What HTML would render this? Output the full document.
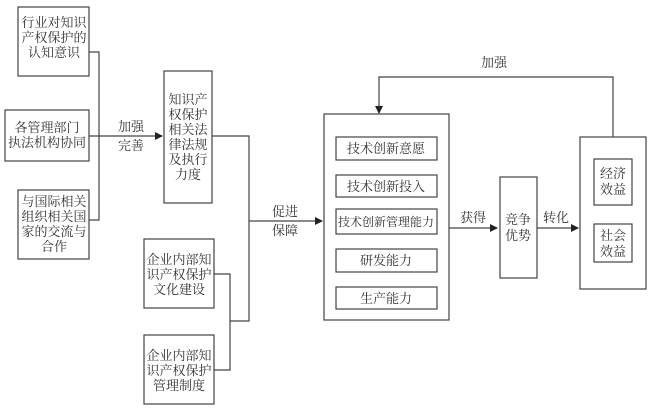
<!DOCTYPE html>
<html><head><meta charset="utf-8"><style>
html,body{margin:0;padding:0;background:#fff;}
svg text{font-family:"Liberation Serif","Noto Serif CJK SC",serif;font-size:13px;fill:#333;text-anchor:middle;}
</style></head><body>
<svg width="650" height="407" viewBox="0 0 650 407" xmlns="http://www.w3.org/2000/svg">
<defs><marker id="a" markerWidth="8" markerHeight="8" refX="7" refY="4" orient="auto" markerUnits="userSpaceOnUse"><path d="M0,0 L8,4 L0,8 z" fill="#222"/></marker></defs>
<g fill="none" stroke="#444" stroke-width="1.2">
<rect x="18" y="7" width="71" height="69"/>
<rect x="5" y="110" width="84" height="51"/>
<rect x="18" y="190" width="71" height="69"/>
<path d="M89,52 H99 V220 H89"/>
<path d="M89,136 H162" marker-end="url(#a)"/>
<rect x="164" y="71" width="48" height="132"/>
<path d="M212,136 H249 V321 H230"/>
<path d="M249,221 H322" marker-end="url(#a)"/>
<rect x="144" y="239" width="70" height="69"/>
<rect x="144" y="335" width="70" height="69"/>
<path d="M214,274 H230 V370 H214"/>
<rect x="324" y="114" width="125" height="206"/>
<rect x="336" y="137" width="101" height="23"/>
<rect x="336" y="175" width="101" height="22"/>
<rect x="336" y="209" width="101" height="25"/>
<rect x="336" y="249" width="101" height="23"/>
<rect x="336" y="287" width="101" height="22"/>
<path d="M449,228 H497" marker-end="url(#a)"/>
<rect x="500" y="177" width="37" height="101"/>
<path d="M537,228 H578" marker-end="url(#a)"/>
<rect x="580" y="137" width="66" height="152"/>
<rect x="594" y="159" width="38" height="46"/>
<rect x="594" y="224" width="38" height="38"/>
<path d="M613,137 V77 H379 V113" marker-end="url(#a)"/>
</g>
<text x="54" y="27">行业对知识</text><text x="54" y="42">产权保护的</text><text x="54" y="57">认知意识</text>
<text x="47" y="132">各管理部门</text><text x="47" y="147">执法机构协同</text>
<text x="54" y="206">与国际相关</text><text x="54" y="221">组织相关国</text><text x="54" y="236">家的交流与</text><text x="54" y="251">合作</text>
<text x="131" y="131">加强</text><text x="131" y="150">完善</text>
<text x="188" y="104">知识产</text><text x="188" y="119">权保护</text><text x="188" y="134">相关法</text><text x="188" y="149">律法规</text><text x="188" y="164">及执行</text><text x="188" y="179">力度</text>
<text x="285" y="216">促进</text><text x="285" y="235">保障</text>
<text x="179" y="264">企业内部知</text><text x="179" y="279">识产权保护</text><text x="179" y="294">文化建设</text>
<text x="179" y="360">企业内部知</text><text x="179" y="375">识产权保护</text><text x="179" y="390">管理制度</text>
<text x="386" y="153">技术创新意愿</text>
<text x="386" y="191">技术创新投入</text>
<text x="386" y="226" style="font-size:12px">技术创新管理能力</text>
<text x="386" y="265">研发能力</text>
<text x="386" y="303">生产能力</text>
<text x="473" y="222">获得</text>
<text x="518" y="224">竞争</text><text x="518" y="240">优势</text>
<text x="556" y="222">转化</text>
<text x="613" y="178">经济</text><text x="613" y="194">效益</text>
<text x="613" y="240">社会</text><text x="613" y="256">效益</text>
<text x="494" y="67">加强</text>
</svg>
</body></html>
